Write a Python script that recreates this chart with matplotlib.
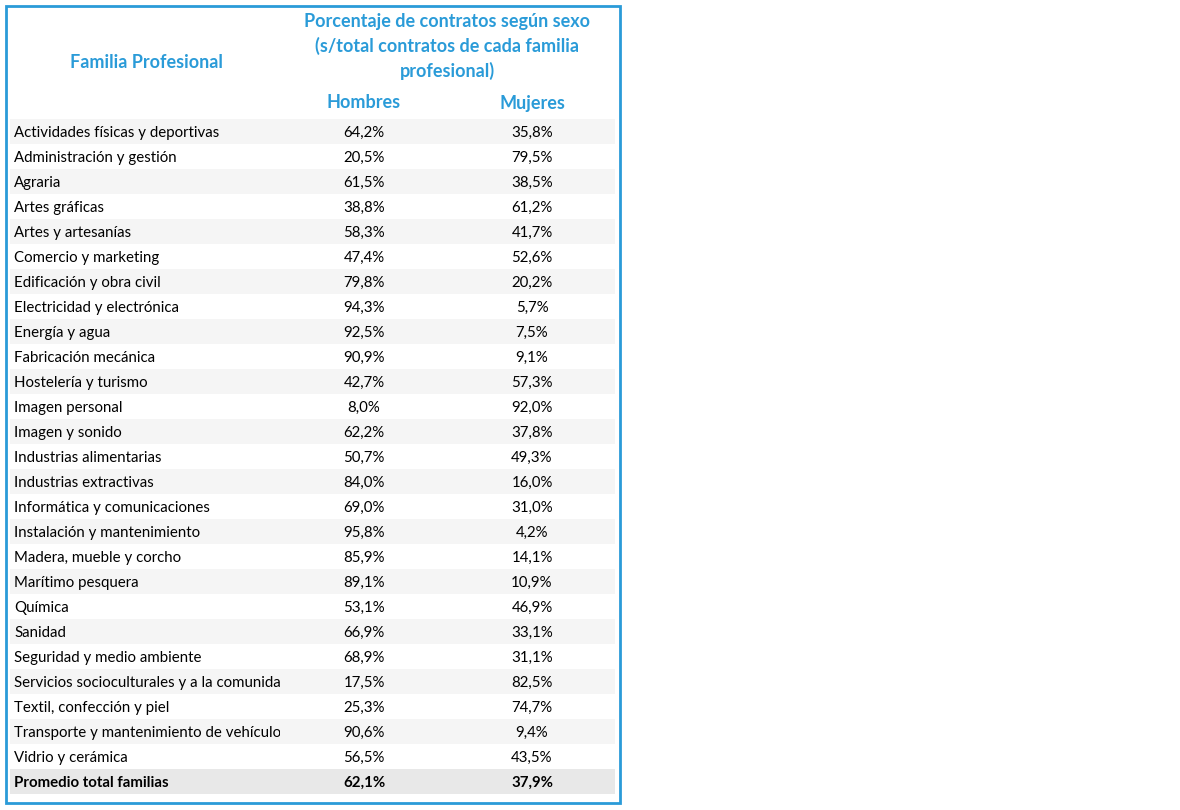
import matplotlib.pyplot as plt
import matplotlib.patches as patches
from matplotlib.transforms import Bbox, TransformedBbox

familias = [
    "Actividades físicas y deportivas", "Administración y gestión", "Agraria",
    "Artes gráficas", "Artes y artesanías", "Comercio y marketing",
    "Edificación y obra civil", "Electricidad y electrónica", "Energía y agua",
    "Fabricación mecánica", "Hostelería y turismo", "Imagen personal",
    "Imagen y sonido", "Industrias alimentarias", "Industrias extractivas",
    "Informática y comunicaciones", "Instalación y mantenimiento",
    "Madera, mueble y corcho", "Marítimo pesquera", "Química", "Sanidad",
    "Seguridad y medio ambiente", "Servicios socioculturales y a la comunidad",
    "Textil, confección y piel", "Transporte y mantenimiento de vehículos",
    "Vidrio y cerámica",
]
hombres = [64.2, 20.5, 61.5, 38.8, 58.3, 47.4, 79.8, 94.3, 92.5, 90.9, 42.7, 8.0,
           62.2, 50.7, 84.0, 69.0, 95.8, 85.9, 89.1, 53.1, 66.9, 68.9, 17.5, 25.3,
           90.6, 56.5]
mujeres = [35.8, 79.5, 38.5, 61.2, 41.7, 52.6, 20.2, 5.7, 7.5, 9.1, 57.3, 92.0,
           37.8, 49.3, 16.0, 31.0, 4.2, 14.1, 10.9, 46.9, 33.1, 31.1, 82.5, 74.7,
           9.4, 43.5]
promedio_label = "Promedio total familias"
promedio = [62.1, 37.9]

BLUE = "#2A9BD8"
FONT = ["Lato", "DejaVu Sans"]
HDR = 13
BODY = 10.8


def pct(v):
    return f"{v:.1f}%".replace(".", ",")


fig = plt.figure(figsize=(11.8, 8.1), dpi=100)
ax = fig.add_axes([0, 0, 1, 1])
ax.set_xlim(0, 1180)
ax.set_ylim(810, 0)
ax.axis("off")

# outer border
ax.add_patch(patches.Rectangle((6, 6), 614, 797, fill=False, edgecolor=BLUE, lw=2))

# header
ax.text(146, 63, "Familia Profesional", ha="center", va="center", color=BLUE,
        fontsize=HDR, fontweight="bold", family=FONT)
for i, line in enumerate(["Porcentaje de contratos según sexo",
                          "(s/total contratos de cada familia", "profesional)"]):
    ax.text(447, 21 + 25 * i, line, ha="center", va="center", color=BLUE,
            fontsize=HDR, fontweight="bold", family=FONT)
ax.text(364, 103, "Hombres", ha="center", va="center", color=BLUE,
        fontsize=HDR, fontweight="bold", family=FONT)
ax.text(532, 103, "Mujeres", ha="center", va="center", color=BLUE,
        fontsize=HDR, fontweight="bold", family=FONT)

# label column is cut off like a narrow spreadsheet cell
clipbox = TransformedBbox(Bbox([[10, 0], [280, 810]]), ax.transData)

rows = list(zip(familias, hombres, mujeres)) + [(promedio_label, promedio[0], promedio[1])]
y0, dy = 132, 25
for i, (name, h, m) in enumerate(rows):
    y = y0 + dy * i
    last = i == len(rows) - 1
    if last:
        ax.add_patch(patches.Rectangle((10, y - 13), 605, 25, color="#E8E8E8", lw=0))
    elif i % 2 == 0:
        ax.add_patch(patches.Rectangle((10, y - 13), 605, 25, color="#F5F5F5", lw=0))
    w = "bold" if last else "normal"
    t = ax.text(14, y + 1, name, ha="left", va="center", fontsize=BODY, fontweight=w,
                family=FONT, color="black", clip_on=True)
    t.set_clip_box(clipbox)
    ax.text(364, y + 1, pct(h), ha="center", va="center", fontsize=BODY, fontweight=w,
            family=FONT, color="black")
    ax.text(532, y + 1, pct(m), ha="center", va="center", fontsize=BODY, fontweight=w,
            family=FONT, color="black")

fig.savefig("out.png", dpi=100, facecolor="white")
